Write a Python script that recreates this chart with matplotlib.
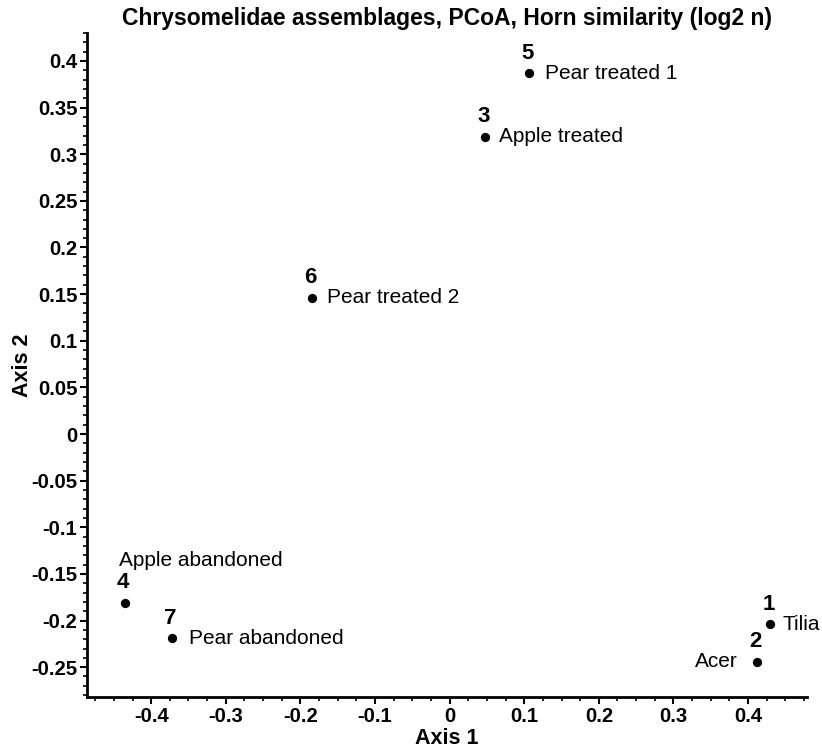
import matplotlib
matplotlib.use("Agg")
import matplotlib.pyplot as plt
from matplotlib.ticker import MultipleLocator, FuncFormatter

ids = ["1", "2", "3", "4", "5", "6", "7"]
names = ["Tilia", "Acer", "Apple treated", "Apple abandoned", "Pear treated 1", "Pear treated 2", "Pear abandoned"]
axis1 = [0.430, 0.412, 0.048, -0.435, 0.107, -0.184, -0.372]
axis2 = [-0.204, -0.244, 0.319, -0.181, 0.387, 0.146, -0.219]

plt.rcParams['font.family'] = ['Liberation Sans', 'DejaVu Sans']

fig = plt.figure(figsize=(8.22, 7.53), dpi=100)
ax = fig.add_axes([87/822, 1-697/753, (807-87)/822, (697-33)/753])

ax.scatter(axis1, axis2, s=32, color='black', zorder=3)

# name label offsets (pixels) and alignment
name_off = {
    "Tilia": (12, 0, 'left', 'center'),
    "Acer": (-19, 0, 'right', 'center'),
    "Apple treated": (14, 0, 'left', 'center'),
    "Apple abandoned": (-6, 42, 'left', 'center'),
    "Pear treated 1": (16, 0, 'left', 'center'),
    "Pear treated 2": (15, 0, 'left', 'center'),
    "Pear abandoned": (17, 0, 'left', 'center'),
}
for i, n, x, y in zip(ids, names, axis1, axis2):
    ax.annotate(i, (x, y), xytext=(-2, 20), textcoords='offset pixels',
                ha='center', va='center', fontsize=16, fontweight='bold')
    dx, dy, ha, va = name_off[n]
    ax.annotate(n, (x, y), xytext=(dx, dy), textcoords='offset pixels',
                ha=ha, va=va, fontsize=15)

ax.set_xlim(-0.486, 0.479)
ax.set_ylim(-0.282, 0.43)
ax.xaxis.set_major_locator(MultipleLocator(0.1))
ax.xaxis.set_minor_locator(MultipleLocator(0.025))
ax.yaxis.set_major_locator(MultipleLocator(0.05))
ax.yaxis.set_minor_locator(MultipleLocator(0.01))

def fmt(v, pos):
    v = round(v, 3)
    if abs(v) < 1e-9:
        return "0"
    return ("%.3f" % v).rstrip('0').rstrip('.')

ax.xaxis.set_major_formatter(FuncFormatter(fmt))
ax.yaxis.set_major_formatter(FuncFormatter(fmt))

ax.tick_params(axis='both', which='major', length=5, width=1.5, labelsize=14.6, pad=2)
ax.tick_params(axis='both', which='minor', length=3, width=1.2)
for lab in ax.get_xticklabels() + ax.get_yticklabels():
    lab.set_fontweight('bold')

ax.spines['top'].set_visible(False)
ax.spines['right'].set_visible(False)
ax.spines['left'].set_linewidth(2)
ax.spines['bottom'].set_linewidth(2)

ax.set_xlabel("Axis 1", fontsize=15.5, fontweight='bold', labelpad=2)
ax.set_ylabel("Axis 2", fontsize=15.5, fontweight='bold', labelpad=-1.5)
ax.set_title("Chrysomelidae assemblages, PCoA, Horn similarity (log2 n)",
             fontsize=16.5, fontweight='bold', pad=6)

fig.savefig("out.png", dpi=100)
